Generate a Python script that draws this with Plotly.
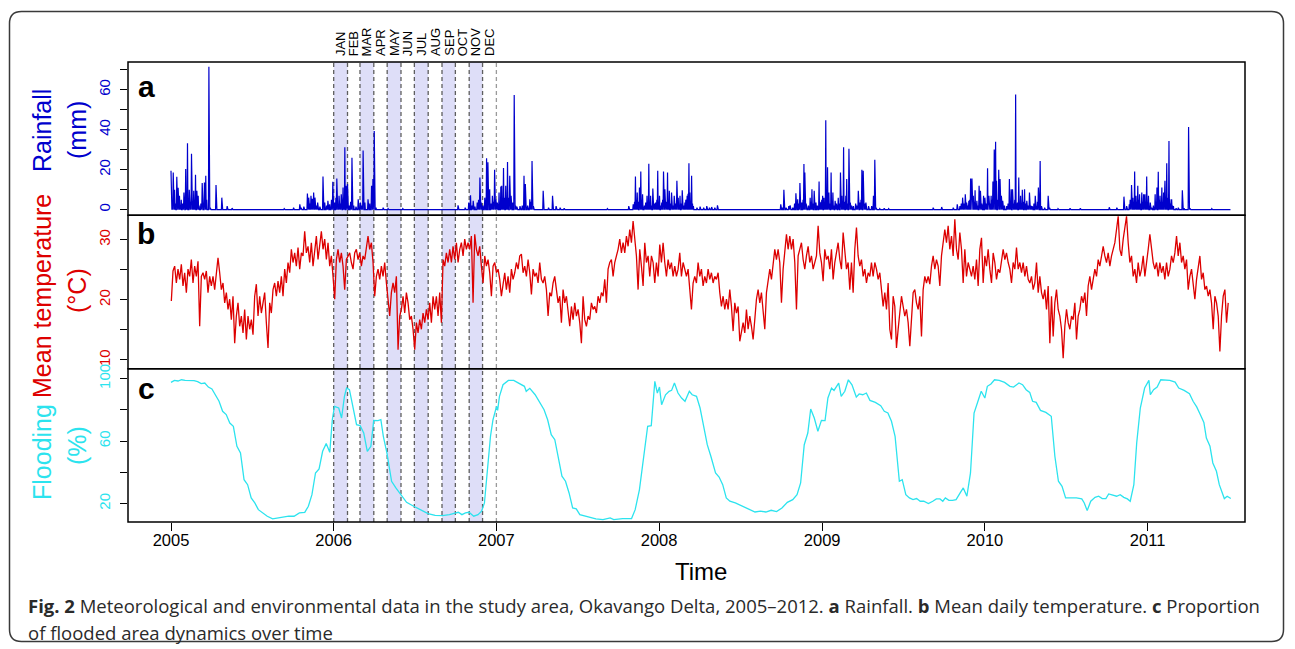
import numpy as np
import pandas as pd
import plotly.graph_objects as go

START = pd.Timestamp("2005-01-01")

# ---------------- data ----------------
# daily rainfall: day offset from 2005-01-01 and mm on rainy days (dry days = 0)
rain_day = [0, 1, 3, 5, 8, 10, 13, 16, 19, 21, 23, 26, 29, 33, 35, 37, 41, 44, 46, 49, 51, 53, 55, 58, 61, 63, 67, 70, 75, 78, 80, 85, 88, 101, 114, 126, 137,
            254, 275,
            289, 292, 298, 306, 309, 312, 314, 317, 320, 323, 326, 329, 334, 341, 345, 349, 352, 356, 360, 363, 367, 370, 372, 375, 377, 380, 382, 386, 388, 390, 393, 396, 400, 403, 406, 410, 415, 420, 425, 428, 431, 435, 442, 446, 450, 453, 456, 460, 476, 487, 520, 560,
            644, 660, 668, 672, 675, 678, 682, 687, 690, 693, 696, 700, 704, 708, 711, 715, 718, 721, 724, 726, 729, 732, 736, 740, 742, 744, 746, 748, 751, 753, 755, 757, 760, 763, 767, 770, 773, 776, 783, 788, 792, 795, 800, 805, 808, 810, 813, 835, 847, 856, 864, 873, 882, 979,
            1027, 1037, 1040, 1042, 1044, 1046, 1048, 1051, 1054, 1056, 1058, 1062, 1065, 1068, 1070, 1072, 1074, 1076, 1078, 1081, 1084, 1087, 1090, 1092, 1094, 1096, 1099, 1101, 1103, 1105, 1108, 1111, 1114, 1116, 1118, 1121, 1123, 1126, 1129, 1132, 1135, 1138, 1140, 1142, 1145, 1147, 1150, 1153, 1155, 1158, 1160, 1162, 1164, 1166, 1168, 1170, 1172, 1180, 1187, 1195, 1202, 1208, 1213, 1220, 1226,
            1368, 1372, 1375, 1380, 1386, 1389, 1395, 1399, 1402, 1406, 1409, 1411, 1415, 1418, 1420, 1422, 1425, 1430, 1434, 1436, 1438, 1440, 1443, 1447, 1450, 1454, 1456, 1458, 1460, 1462, 1465, 1467, 1469, 1471, 1473, 1475, 1476, 1478, 1481, 1483, 1485, 1487, 1490, 1493, 1497, 1499, 1502, 1505, 1507, 1509, 1511, 1514, 1516, 1518, 1521, 1524, 1527, 1531, 1536, 1539, 1542, 1546, 1548, 1550, 1553, 1556, 1559, 1565, 1572, 1576, 1579, 1582, 1590, 1600, 1610,
            1710, 1729, 1755, 1764, 1770, 1773, 1776, 1779, 1782, 1785, 1788, 1790, 1792, 1794, 1796, 1797, 1800, 1802, 1804, 1806, 1808, 1810, 1813, 1816, 1819, 1823, 1826, 1829, 1832, 1834, 1835, 1838, 1840, 1842, 1844, 1847, 1850, 1852, 1855, 1857, 1860, 1863, 1866, 1870, 1875, 1878, 1881, 1883, 1885, 1888, 1891, 1893, 1895, 1897, 1899, 1902, 1904, 1906, 1908, 1910, 1912, 1915, 1917, 1920, 1923, 1926, 1929, 1932, 1936, 1939, 1942, 1944, 1946, 1950, 1953, 1960, 1968, 1971, 1990, 2017, 2040,
            2105, 2122, 2138, 2144, 2150, 2152, 2155, 2158, 2160, 2162, 2164, 2165, 2167, 2169, 2171, 2173, 2175, 2178, 2180, 2182, 2184, 2185, 2187, 2189, 2191, 2193, 2197, 2200, 2204, 2208, 2210, 2212, 2215, 2217, 2219, 2221, 2223, 2225, 2227, 2229, 2230, 2232, 2234, 2236, 2239, 2241, 2243, 2245, 2247, 2249, 2255, 2260, 2269, 2273, 2283, 2286, 2300, 2335]
rain_mm = [19.5, 3, 4, 18.6, 10, 3, 16.5, 11, 7, 2, 5, 3, 8.6, 20.3, 6, 33.2, 10, 4, 27.9, 3, 9.4, 5, 17.5, 9.4, 7, 2, 3, 13.3, 13.6, 17, 5, 71.5, 1, 12.3, 6, 1.8, 0.8,
           0.5, 1,
           2.7, 1, 1.5, 8.1, 6, 3, 6.9, 5.5, 8.6, 6, 2, 3.5, 1.5, 16.6, 3.5, 2, 4.4, 2.7, 5, 13.9, 3.5, 6, 15.6, 2, 6.9, 3, 7.7, 11.1, 5, 31.2, 11.9, 12.8, 2, 4, 25.9, 2, 1.5, 5.2, 3.5, 2, 29.6, 3.5, 5.2, 3, 11.9, 15.3, 39.3, 1, 1, 0.5, 0.5, 0.3,
           2.2, 1, 3.5, 7.2, 2, 4.4, 1.5, 3.5, 5, 16.1, 3.5, 2, 6, 25.7, 23.7, 10.2, 3, 6.9, 4, 20, 5, 3.5, 8.6, 11.6, 11.9, 5, 20.8, 6, 11.9, 4, 23.8, 6, 17, 6.9, 3.5, 57.3, 2, 1.5, 1.8, 2, 17, 12.8, 2, 5.2, 4, 24.3, 1.8, 9.4, 1, 6.9, 1.8, 1, 0.7, 0.5,
           1.8, 2.7, 4, 16.6, 5, 8.6, 4, 11.1, 19.1, 5, 7.7, 2, 3.5, 6.9, 4, 23, 3, 6.9, 2, 10.6, 3, 3.5, 5, 19.5, 4, 6.9, 2, 3.5, 5, 19.1, 10.2, 4, 18.6, 5, 9.4, 3, 8.6, 2, 6.9, 3, 14.4, 6, 2, 6.9, 3, 9.7, 2, 3.5, 5, 6.9, 8, 23.2, 8.6, 4, 17, 3, 1.8, 1, 1.5, 1, 1.8, 1, 1.3, 1, 2.2,
           2.7, 1, 9.9, 1, 1.8, 2.2, 1, 3, 8.2, 5.2, 3, 13.3, 3.5, 5, 22.8, 18.6, 3, 2, 6, 4, 10.2, 3, 9.4, 3.5, 2, 14.1, 4, 3.5, 5, 6.9, 6, 3, 44.7, 5, 21.2, 4, 8.6, 3, 18.6, 4, 8.6, 2, 4.4, 3, 6, 3, 18.6, 6.9, 3, 31.2, 4, 6.9, 15.3, 3, 30.4, 3.5, 2, 1.8, 3, 2, 9.4, 3.5, 5, 20, 19.5, 3, 3.5, 1.8, 1.8, 6.9, 25, 1, 0.5, 0.7, 0.5,
           1, 1.3, 1, 2.7, 1.8, 3, 6, 3, 7.7, 3.5, 2, 4.4, 5, 15.6, 8, 15.6, 6.9, 4, 9.7, 3, 4.4, 2, 11.9, 9.4, 3, 6.9, 6, 3, 20.7, 5, 6.9, 3, 6.9, 5, 14.1, 30.1, 33.9, 14.4, 5, 20, 15.3, 6.9, 4.4, 2, 1.8, 3, 15.3, 4, 10.2, 10.2, 3, 5, 57.6, 3, 3.5, 16.1, 3, 6.9, 3, 9.9, 4, 10.2, 3, 4.4, 2, 8.6, 2, 1.8, 3, 6.9, 1.8, 4, 11.1, 24.3, 1.8, 1, 6.9, 1, 0.5, 0.7, 0.7,
           1.2, 1, 6.5, 1.8, 2.7, 5, 12.3, 6, 4, 19.1, 5, 6.9, 4, 11.9, 5, 7.7, 3, 8.6, 4, 7.7, 3, 7.7, 4, 16.6, 3, 6.9, 3.5, 1, 2, 7.7, 4, 11.1, 19, 5, 6.9, 4, 11.1, 3, 8.6, 4, 14.4, 5, 23.2, 6, 34.3, 5.2, 3, 5.2, 2, 1.8, 0.7, 1, 9.7, 0.7, 41.3, 0.7, 0.3, 0.5]
RAIN_DAYS = 2378

# mean daily temperature (deg C), sampled every TEMP_STEP_DAYS from TEMP_FIRST_DAY
TEMP_FIRST_DAY = 0.75
TEMP_STEP_DAYS = 3.74
temp_c_2005_06 = [19.8, 24.8, 25.6, 22.8, 25.1, 23.4, 25.9, 22.3, 24.5, 21.2,
                  25.1, 23.9, 26.7, 22.8, 25.6, 23.9, 26.4, 15.6, 23.9, 24.5,
                  23.4, 24.8, 21.2, 23.9, 22.3, 23.9, 21.7, 25.1, 27.0, 24.5,
                  21.7, 22.8, 19.5, 21.2, 18.4, 20.1, 16.7, 20.6, 12.8, 17.3,
                  19.5, 15.6, 17.3, 14.5, 18.4, 13.4, 17.3, 15.1, 16.7, 14.2,
                  20.6, 22.6, 17.3, 20.6, 17.8, 19.5, 21.2, 16.2, 12.0, 19.5,
                  17.8, 21.7, 22.8, 20.6, 23.1, 21.2, 23.9, 20.6, 25.1, 22.8,
                  26.2, 24.5, 28.4, 26.2, 27.8, 25.6, 28.7, 25.1, 27.8, 27.3,
                  31.4, 27.8, 28.9, 26.2, 29.5, 25.6, 28.4, 30.6, 26.7, 29.5,
                  31.4, 28.4, 30.1, 26.7, 29.5, 25.6, 27.3, 23.9, 20.1, 26.7,
                  28.4, 26.2, 27.8, 25.6, 21.7, 26.7, 27.3, 27.8, 26.2, 25.1,
                  27.8, 28.4, 26.7, 27.8, 25.6, 27.3, 26.7, 28.9, 30.6, 28.4,
                  29.5, 26.2, 20.6, 23.9, 25.1, 23.4, 25.6, 23.9, 26.2, 22.8,
                  20.1, 17.3, 21.2, 22.8, 21.2, 23.9, 11.7, 17.3, 18.4, 20.6,
                  17.8, 21.2, 19.5, 16.7, 17.3, 15.1, 11.7, 16.2, 14.5, 16.7,
                  15.1, 17.8, 16.2, 18.4, 16.7, 19.5, 16.2, 20.6, 18.4, 20.6,
                  17.3, 21.2, 16.2, 26.7, 25.6, 27.8, 26.2, 28.4, 26.2, 28.9,
                  26.7, 29.5, 26.2, 28.4, 29.5, 27.3, 30.1, 28.4, 29.5, 28.4,
                  30.6, 19.5, 30.9, 28.4, 27.3, 28.9, 25.6, 22.8, 27.3, 25.6,
                  26.7, 24.5, 20.6, 25.6, 26.2, 24.5, 25.1, 23.4, 20.6]
temp_c_2007_09 = [22.8, 24.5, 21.7, 23.9, 21.2, 25.1, 23.4, 24.5, 26.2, 25.1,
                  27.3, 27.6, 24.5, 25.6, 23.9, 26.7, 24.5, 20.9, 25.1, 23.9,
                  24.5, 22.8, 26.2, 23.4, 22.8, 23.9, 21.7, 17.3, 21.2, 20.6,
                  22.8, 23.9, 21.7, 19.5, 20.6, 16.2, 21.7, 19.5, 20.6, 18.4,
                  15.6, 18.9, 16.7, 19.5, 17.3, 18.4, 16.2, 12.8, 20.6, 16.7,
                  15.6, 17.3, 16.7, 19.5, 18.4, 18.9, 17.8, 20.6, 19.5, 21.2,
                  20.6, 23.4, 19.5, 25.1, 26.2, 26.7, 23.9, 26.2, 27.3, 28.4,
                  30.1, 27.8, 29.5, 27.8, 30.6, 28.9, 31.7, 29.5, 33.1, 30.6,
                  27.3, 21.7, 28.4, 25.6, 22.3, 29.5, 26.2, 27.3, 23.9, 27.3,
                  26.2, 22.8, 26.2, 23.9, 29.2, 26.2, 29.5, 26.2, 23.9, 26.7,
                  25.1, 26.2, 23.9, 25.6, 23.9, 25.1, 27.8, 23.9, 26.2, 25.1,
                  23.9, 25.1, 21.7, 18.4, 22.8, 23.9, 22.8, 26.2, 23.9, 25.1,
                  22.3, 23.9, 22.8, 25.1, 23.4, 24.5, 22.8, 23.9, 23.4, 24.5,
                  21.2, 18.9, 20.6, 18.4, 20.1, 18.4, 21.7, 18.9, 14.8, 19.5,
                  17.8, 18.9, 13.1, 15.1, 16.2, 14.5, 18.4, 15.1, 17.3, 15.6,
                  13.4, 16.7, 20.1, 21.7, 19.5, 21.2, 18.4, 15.1, 21.2, 22.8,
                  25.1, 23.4, 26.2, 28.4, 26.7, 28.4, 26.2, 19.5, 25.1, 28.4,
                  30.9, 28.4, 30.6, 28.4, 30.1, 26.2, 18.4, 27.3, 28.4, 29.5,
                  26.7, 25.1, 27.3, 28.9, 26.2, 27.3, 25.1, 26.2, 27.3, 32.3,
                  27.8, 26.2, 23.1, 28.4, 26.7, 27.3, 25.1, 28.4, 23.4, 26.2,
                  27.8, 29.5, 26.7, 25.1, 31.2, 27.3, 25.1, 26.2, 21.7, 26.2,
                  21.2, 28.4, 32.0, 27.3, 25.6, 26.7, 23.9, 25.1, 22.8, 24.5,
                  23.9, 26.2, 23.9]
temp_c_2009_11 = [26.2, 25.1, 23.4, 24.5, 21.7, 18.9, 21.2, 18.4, 22.8, 15.1,
                  13.4, 20.6, 18.9, 12.0, 15.1, 17.8, 20.6, 18.9, 17.3, 18.4,
                  16.2, 12.3, 17.3, 21.2, 21.7, 19.5, 18.4, 20.6, 13.9, 21.7,
                  23.9, 22.8, 23.9, 22.6, 25.6, 27.3, 25.1, 26.7, 25.6, 22.3,
                  27.3, 29.5, 31.7, 29.5, 32.3, 28.4, 30.6, 27.3, 33.4, 28.4,
                  26.7, 31.2, 28.4, 22.8, 28.4, 23.9, 26.2, 25.1, 23.9, 25.6,
                  23.4, 26.7, 22.3, 28.4, 30.3, 22.8, 27.3, 25.6, 28.4, 25.1,
                  22.8, 27.8, 26.2, 23.4, 25.1, 24.5, 26.2, 28.4, 26.7, 27.8,
                  26.2, 25.1, 22.8, 26.2, 25.1, 28.7, 25.1, 26.2, 24.5, 26.2,
                  23.9, 25.6, 23.4, 22.8, 23.9, 21.7, 22.8, 26.2, 21.2, 23.9,
                  21.2, 20.1, 21.7, 18.4, 22.3, 12.8, 20.6, 13.9, 19.5, 21.7,
                  18.4, 17.3, 15.1, 10.3, 15.6, 18.4, 16.2, 15.1, 17.3, 16.7,
                  19.5, 13.4, 17.3, 18.4, 20.6, 19.5, 21.2, 17.3, 22.3, 23.9,
                  21.7, 23.4, 25.1, 23.9, 26.7, 25.6, 27.3, 28.9, 27.3, 26.2,
                  27.8, 25.6, 27.3, 28.4, 29.5, 31.7, 33.9, 28.4, 27.3, 30.1,
                  32.3, 33.9, 29.5, 26.2, 27.3, 23.9, 25.1, 22.8, 26.2, 23.9,
                  25.1, 27.3, 23.9, 26.7, 28.4, 30.9, 28.4, 26.2, 25.1, 26.2,
                  23.9, 26.2, 24.5, 25.6, 23.4, 26.2, 23.9, 25.1, 27.3, 26.2,
                  27.8, 30.6, 27.3, 29.5, 26.2, 27.3, 25.1, 26.7, 21.7, 23.9,
                  25.1, 22.8, 20.1, 23.4, 25.1, 27.3, 23.4, 24.5, 21.7, 22.3,
                  20.6, 21.7, 19.5, 15.1, 20.6, 19.5, 17.3, 11.4, 17.3, 20.6,
                  21.7, 16.2, 19.5]

# flooded area (%): day offset from 2005-01-01 and percentage
flood_day = [0, 7.7, 15.7, 23.7, 31.7, 39.7, 51.7, 59.8, 67.8, 75.8,
             83.8, 91.8, 99.8, 107.8, 115.8, 123.9, 131.9, 139.9, 147.9, 155.9,
             163.9, 171.9, 179.9, 188.0, 196.0, 204.0, 216.0, 228.0, 240.0, 252.1,
             264.1, 276.1, 288.1, 300.1, 308.2, 316.2, 324.2, 332.2, 340.2, 348.2,
             356.2, 361.9, 366.7, 376.3, 382.7, 389.1, 393.9, 400.3, 408.3, 416.3,
             424.3, 432.4, 440.4, 448.4, 454.8, 464.4, 470.8, 476.4, 484.4, 494.9,
             504.5, 516.5, 528.5, 544.5, 560.6, 576.6, 592.6, 608.6, 624.7, 636.7,
             644.7, 652.7, 660.7, 668.7, 679.2, 688.8, 696.8, 703.2, 708.8, 716.8,
             722.4, 730.4, 732.8, 736.9, 744.9, 756.9, 768.9, 780.9, 792.9, 797.0,
             805.0, 817.0, 829.0, 837.0, 845.0, 853.1, 861.1, 869.1, 877.1, 885.1,
             893.1, 901.1, 909.2, 917.2, 933.2, 953.2, 969.2, 985.3, 993.3, 1013.3,
             1033.3, 1041.4, 1051.0, 1061.4, 1069.4, 1077.5, 1085.5, 1091.1, 1095.9, 1100.7,
             1109.5, 1117.5, 1123.1, 1129.5, 1137.5, 1145.5,
             1153.2, 1162.9, 1169.3, 1179.0, 1187.0, 1195.1, 1203.1, 1211.2, 1221.7, 1229.7,
             1237.8, 1245.8, 1253.9, 1266.0, 1278.1, 1290.2, 1302.2, 1310.3, 1322.4, 1334.5,
             1346.5, 1358.6, 1370.7, 1382.8, 1394.9, 1404.5, 1412.6, 1420.7, 1428.7, 1435.2,
             1443.2, 1451.3, 1459.3, 1467.4, 1473.8, 1481.9, 1487.5, 1498.0, 1503.6, 1511.7,
             1519.7, 1527.8, 1537.5, 1543.9, 1552.0, 1560.0, 1568.1, 1580.2, 1592.3, 1600.3,
             1608.4, 1616.4, 1624.5, 1628.5, 1634.1, 1640.6, 1648.6, 1656.7, 1664.8, 1672.8,
             1680.9, 1688.9, 1699.4, 1709.1, 1717.1, 1725.2, 1731.6, 1737.3, 1745.3, 1753.4,
             1761.4, 1769.5, 1777.5, 1785.6, 1793.7, 1801.7, 1809.8, 1817.8, 1825.9, 1831.5,
             1839.6, 1847.6, 1858.1, 1870.2, 1882.3, 1890.3, 1902.4, 1910.5, 1918.5, 1926.6,
             1933.0, 1941.1, 1950.7, 1962.8, 1974.9, 1983.0, 1991.0, 1999.1, 2007.1, 2019.2,
             2031.3, 2043.4, 2049.0, 2055.5, 2063.5, 2073.2, 2081.2, 2089.3, 2097.4, 2103.8,
             2113.5, 2121.5, 2129.6, 2137.6, 2145.7, 2152.1, 2160.2, 2166.6, 2174.7, 2184.4,
             2194.0, 2197.2, 2204.5, 2212.5, 2220.6, 2232.7, 2240.8, 2252.8, 2260.9, 2273.0,
             2285.0, 2293.1, 2301.2, 2309.2, 2317.3, 2322.9, 2331.0, 2337.4, 2345.5, 2351.9,
             2357.5, 2363.2, 2369.6, 2377.7]
flood_pct = [97.6, 98.9, 98.5, 99.3, 98.9, 98.9, 98.7, 98.1, 96.8, 97.2,
             94.6, 93.4, 89.7, 85.5, 79.1, 77.0, 71.6, 69.5, 56.7, 52.4,
             35.3, 32.1, 23.6, 20.4, 16.1, 14.4, 11.9, 10.2, 10.8, 11.2,
             11.9, 11.9, 14.0, 14.4, 18.3, 25.7, 39.6, 42.2, 53.5, 58.4,
             52.8, 73.7, 82.3, 81.2, 74.8, 88.7, 94.0, 93.0, 82.3, 70.5,
             69.9, 65.2, 53.5, 56.7, 73.3, 73.1, 73.7, 63.1, 52.4, 34.3,
             30.0, 25.1, 20.8, 18.3, 15.7, 13.6, 12.5, 12.3, 12.9, 13.6,
             14.4, 12.9, 14.0, 14.4, 11.9, 12.9, 15.1, 20.4, 37.5, 63.1,
             73.7, 82.3, 79.7, 88.7, 96.1, 98.9, 98.9, 97.2, 95.1, 91.9,
             93.8, 89.7, 84.4, 80.1, 73.7, 64.1, 60.9, 50.3, 37.5, 34.3,
             26.8, 17.2, 16.6, 12.9, 11.5, 10.2, 9.7, 10.8, 9.7, 10.4,
             10.4, 16.1, 29.0, 52.4, 69.5, 69.9, 98.3, 90.8, 94.6, 83.3,
             89.7, 91.9, 92.5, 97.2, 90.8, 87.6,
             85.5, 91.9, 89.7, 88.7, 81.2, 69.5, 57.7, 50.3, 39.6, 37.0,
             32.1, 23.6, 21.5, 20.4, 18.7, 17.2, 15.7, 14.6, 15.1, 14.6,
             15.7, 14.9, 17.2, 20.8, 22.5, 25.7, 33.2, 57.7, 65.2, 80.6,
             74.8, 66.3, 73.3, 73.1, 87.6, 94.0, 92.5, 97.2, 88.7, 91.9,
             99.3, 96.1, 88.2, 90.2, 89.7, 90.8, 86.1, 84.8, 82.7, 79.1,
             78.0, 72.7, 63.1, 52.4, 34.3, 35.3, 25.7, 23.6, 22.5, 23.2,
             21.5, 21.5, 20.0, 21.5, 23.0, 23.0, 21.5, 23.6, 22.1, 22.1,
             22.5, 26.4, 30.0, 24.7, 39.6, 78.0, 84.4, 91.9, 87.6, 95.1,
             96.6, 99.3, 98.9, 97.6, 95.1, 94.6, 97.2, 96.1, 92.9, 91.2,
             85.5, 84.8, 79.7, 78.4, 75.9, 50.3, 34.3, 31.1, 23.6, 23.6,
             23.6, 23.0, 20.4, 15.5, 21.5, 24.0, 24.7, 23.2, 23.2, 26.2,
             25.1, 24.7, 25.7, 24.0, 23.0, 21.5, 32.1, 58.8, 81.2, 94.0,
             98.9, 89.7, 92.9, 94.6, 99.3, 98.9, 98.9, 97.8, 94.0, 92.5,
             90.4, 85.5, 81.9, 77.0, 72.0, 62.0, 56.7, 46.0, 40.7, 32.1,
             27.9, 23.2, 24.7, 23.2]

year_ticks = [2005, 2006, 2007, 2008, 2009, 2010, 2011]
month_labels = ["JAN", "FEB", "MAR", "APR", "MAY", "JUN", "JUL", "AUG", "SEP", "OCT", "NOV", "DEC"]
MONTH_YEAR = 2006
rain_ticks = [0, 10, 20, 30, 40, 50, 60, 70]
rain_tick_text = ["0", "", "20", "", "40", "", "60", ""]
temp_ticks = [10, 15, 20, 25, 30]
temp_tick_text = ["10", "", "20", "", "30"]
flood_ticks = [20, 40, 60, 80, 100]
flood_tick_text = ["20", "", "60", "", "100"]

# ---------------- series ----------------
rain = np.zeros(RAIN_DAYS)
for d, v in zip(rain_day, rain_mm):
    rain[d] = max(rain[d], v)
rain_dates = START + pd.to_timedelta(np.arange(RAIN_DAYS), unit="D")

temp_c = temp_c_2005_06 + temp_c_2007_09 + temp_c_2009_11
temp_dates = START + pd.to_timedelta(TEMP_FIRST_DAY + TEMP_STEP_DAYS * np.arange(len(temp_c)), unit="D")

flood_dates = START + pd.to_timedelta(np.array(flood_day), unit="D")

# ---------------- style / layout helpers ----------------
W, H = 1295, 649
L, R, T, B = 128, 1245, 62, 522
def px(x):
    return (x - L) / (R - L)
def py(y):
    return (B - y) / (B - T)

BLUE = "#0000CD"
RED = "#DD0000"
CYAN = "#2CE3EE"
FONT = "Liberation Sans"

fig = go.Figure()
fig.add_trace(go.Scatter(x=rain_dates, y=rain, mode="lines", line=dict(color=BLUE, width=1.2),
                         xaxis="x", yaxis="y", hoverinfo="skip"))
fig.add_trace(go.Scatter(x=temp_dates, y=temp_c, mode="lines", line=dict(color=RED, width=1.3),
                         xaxis="x", yaxis="y2", hoverinfo="skip"))
fig.add_trace(go.Scatter(x=flood_dates, y=flood_pct, mode="lines", line=dict(color=CYAN, width=1.3),
                         xaxis="x", yaxis="y3", hoverinfo="skip"))

shapes = []
# month bands (odd months shaded) and dashed month boundaries for the highlighted year
for m in range(1, 13):
    a = pd.Timestamp(MONTH_YEAR, m, 1)
    b = pd.Timestamp(MONTH_YEAR + (m == 12), (m % 12) + 1, 1)
    if m % 2 == 1:
        shapes.append(dict(type="rect", xref="x", yref="paper", x0=a, x1=b, y0=0, y1=1,
                           fillcolor="#DEDEF8", line=dict(width=0), layer="below"))
for m in range(1, 14):
    d = pd.Timestamp(MONTH_YEAR + (m == 13), ((m - 1) % 12) + 1, 1)
    col = "#9A9A9A" if m == 13 else "#5E5E5E"
    shapes.append(dict(type="line", xref="x", yref="paper", x0=d, x1=d, y0=0, y1=1,
                       line=dict(color=col, width=1.3, dash="4px,3px"), layer="below"))
# panel boxes
for y0, y1 in [(2/3, 1), (1/3, 2/3), (0, 1/3)]:
    shapes.append(dict(type="rect", xref="paper", yref="paper", x0=0, x1=1, y0=y0, y1=y1,
                       line=dict(color="black", width=1.5), layer="above"))
# outer rounded frame
fx0, fx1, fy0, fy1, rad = 9.5, 1283.5, 11.5, 641.5, 12
rx = rad / (R - L)
ry = rad / (B - T)
X0, X1, Yt, Yb = px(fx0), px(fx1), py(fy0), py(fy1)
path = (f"M {X0+rx},{Yt} L {X1-rx},{Yt} Q {X1},{Yt} {X1},{Yt-ry} "
        f"L {X1},{Yb+ry} Q {X1},{Yb} {X1-rx},{Yb} L {X0+rx},{Yb} Q {X0},{Yb} {X0},{Yb+ry} "
        f"L {X0},{Yt-ry} Q {X0},{Yt} {X0+rx},{Yt} Z")
shapes.append(dict(type="path", xref="paper", yref="paper", path=path,
                   line=dict(color="#3A3A3A", width=1.5), layer="above"))

ann = []
def ytitle(text, x, y, color):
    ann.append(dict(text=text, x=px(x), y=py(y), xref="paper", yref="paper", showarrow=False,
                    textangle=-90, xanchor="center", yanchor="middle",
                    font=dict(family=FONT, size=25, color=color)))
ytitle("Rainfall", 42, 131, BLUE)
ytitle("(mm)", 77, 130, BLUE)
ytitle("Mean temperature", 42, 296, RED)
ytitle("(°C)", 77, 291, RED)
ytitle("Flooding", 42, 452, CYAN)
ytitle("(%)", 77, 446, CYAN)

for letter, yy in [("a", 86), ("b", 234), ("c", 388)]:
    ann.append(dict(text=f"<b>{letter}</b>", x=px(146), y=py(yy), xref="paper", yref="paper",
                    showarrow=False, xanchor="center", yanchor="middle",
                    font=dict(family=FONT, size=30, color="black")))

for m, lab in enumerate(month_labels, start=1):
    a = pd.Timestamp(MONTH_YEAR, m, 1)
    b = pd.Timestamp(MONTH_YEAR + (m == 12), (m % 12) + 1, 1)
    mid = a + (b - a) / 2
    ann.append(dict(text=lab, x=mid, y=py(58), xref="x", yref="paper", showarrow=False,
                    textangle=-90, xanchor="center", yanchor="bottom",
                    font=dict(family=FONT, size=13, color="black")))

ann.append(dict(text="Time", x=px(701), y=py(571), xref="paper", yref="paper", showarrow=False,
                xanchor="center", yanchor="middle", font=dict(family=FONT, size=24, color="black")))

CAP_FONT = dict(family="Open Sans", size=18.5, color="#2A2A2A")
ann.append(dict(text="<b>Fig. 2</b> Meteorological and environmental data in the study area, Okavango Delta, "
                     "2005–2012. <b>a</b> Rainfall. <b>b</b> Mean daily temperature. <b>c</b> Proportion",
                x=px(26), y=py(605), xref="paper", yref="paper", showarrow=False,
                xanchor="left", yanchor="middle", font=CAP_FONT))
ann.append(dict(text="of flooded area dynamics over time",
                x=px(26), y=py(632), xref="paper", yref="paper", showarrow=False,
                xanchor="left", yanchor="middle", font=CAP_FONT))

x_left = START + pd.Timedelta(days=(L - 171) * 365.25 / 162.8)
x_right = START + pd.Timedelta(days=(R - 171) * 365.25 / 162.8)

def yaxis_style(domain, rng, tv, tt, color):
    return dict(domain=domain, range=rng, anchor="x", tickmode="array", tickvals=tv, ticktext=tt,
                tickangle=-90, ticks="outside", ticklen=7, tickwidth=1, tickcolor="black",
                tickfont=dict(family=FONT, size=15, color=color), ticklabelstandoff=4,
                showgrid=False, zeroline=False, showline=False, fixedrange=True)

fig.update_layout(
    width=W, height=H, autosize=False,
    margin=dict(l=L, r=W - R, t=T, b=H - B, pad=0),
    paper_bgcolor="white", plot_bgcolor="rgba(0,0,0,0)",
    showlegend=False,
    font=dict(family=FONT, color="black"),
    xaxis=dict(domain=[0, 1], anchor="y3", type="date", range=[x_left, x_right],
               tickmode="array", tickvals=[pd.Timestamp(f"{y}-01-01") for y in year_ticks],
               ticktext=[str(y) for y in year_ticks], ticks="outside", ticklen=8, tickwidth=1,
               tickcolor="black", tickfont=dict(family=FONT, size=16.5, color="black"),
               ticklabelstandoff=-5,
               showgrid=False, zeroline=False, showline=False, fixedrange=True),
    yaxis=yaxis_style([2/3, 1], [-2.84, 73.84], rain_ticks, rain_tick_text, BLUE),
    yaxis2=yaxis_style([1/3, 2/3], [8.55, 34.05], temp_ticks, temp_tick_text, RED),
    yaxis3=yaxis_style([0, 1/3], [8.2, 106.4], flood_ticks, flood_tick_text, CYAN),
    shapes=shapes,
    annotations=ann,
)

fig.write_html("out.html")
